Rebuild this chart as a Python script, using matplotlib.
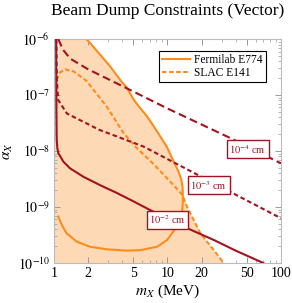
import numpy as np
import matplotlib
matplotlib.use("Agg")
import matplotlib.pyplot as plt

plt.rcParams["font.family"] = ["Liberation Serif", "DejaVu Serif"]
plt.rcParams["mathtext.fontset"] = "stix"

ORANGE = "#ff8c1a"
FILL = "#fdd9b6"
DARKRED = "#a3121f"

# Fermilab E774 contour: mass (MeV), log10(alpha)
e774_m = [1.92, 2.08, 2.55, 3.13, 3.83, 4.4, 5.03, 5.57, 6.6, 8.1, 9.9, 11.4, 12.4, 13.2, 13.6,
          13.7, 13.5, 13.0, 11.8, 9.9, 8.1, 5.76, 4.4, 2.92, 2.08, 1.59, 1.29, 1.17, 1.09]
e774_la = [-6.0, -6.07, -6.28, -6.49, -6.73, -6.875, -7.08, -7.2, -7.38, -7.65, -7.93, -8.2,
           -8.35, -8.5, -8.65, -8.875, -9.05, -9.17, -9.38, -9.59, -9.71, -9.77, -9.78, -9.755,
           -9.71, -9.62, -9.47, -9.32, -9.17]

# SLAC E141 contour
slac_m = [1.055, 1.12, 1.25, 1.5, 1.94, 2.38, 2.9, 3.4, 4.1, 5.38, 7.6, 10.6, 13.5,
          14.9, 19.5, 25.6, 31.3]
slac_la = [-6.73, -6.6, -6.54, -6.58, -6.75, -6.98, -7.2, -7.42, -7.68, -7.95, -8.24, -8.55,
           -8.78, -9.0, -9.47, -9.77, -10.0]

# decay length contours (10^-2, 10^-3, 10^-4 cm)
ct2_m = [1.045, 1.05, 1.056, 1.07, 1.092, 1.21, 1.386, 1.817, 2.55, 3.59, 5.03, 6.97, 10, 15,
         25.7, 40, 70]
ct2_la = [-6.0, -7.3, -7.8, -7.95, -8.04, -8.19, -8.31, -8.46, -8.61, -8.75, -8.9, -9.05, -9.21,
          -9.38, -9.59, -9.78, -10.0]
ct3_m = [1.05, 1.055, 1.07, 1.09, 1.3, 2.5, 6.15, 15, 40, 100]
ct3_la = [-6.0, -6.5, -6.9, -7.09, -7.33, -7.62, -7.92, -8.33, -8.78, -9.2]
ct4_m = [1.09, 1.2, 1.39, 2.0, 4.1, 10, 36, 100]
ct4_la = [-6.0, -6.19, -6.35, -6.54, -6.85, -7.24, -7.77, -8.22]

labels = [r"$10^{-2}$ cm", r"$10^{-3}$ cm", r"$10^{-4}$ cm"]
label_m = [10.0, 23.1, 51.0]
label_a = [5.9e-10, 2.45e-9, 1.07e-8]

fig = plt.figure(figsize=(2.92, 3.03), dpi=100)
ax = fig.add_axes([0.185, 0.132, 0.777, 0.739])
ax.set_xscale("log"); ax.set_yscale("log")

# excluded region: right edge = max of E774 upper branch and SLAC falling branch
la = np.linspace(-10, -6, 500)
kmax = int(np.argmax(e774_m))
up_la = np.array(e774_la[:kmax + 1])[::-1]; up_lm = np.log10(e774_m[:kmax + 1])[::-1]
kpk = int(np.argmax(slac_la))
sl_la = np.array(slac_la[kpk:])[::-1]; sl_lm = np.log10(slac_m[kpk:])[::-1]
r1 = np.where((la >= up_la[0]) & (la <= up_la[-1]), np.interp(la, up_la, up_lm), -1)
r2 = np.where(la <= sl_la[-1], np.interp(la, sl_la, sl_lm), -1)
right = 10 ** np.maximum(r1, r2)
left = np.where(la > slac_la[0], 1.085, 1.0)
ax.fill_betweenx(10 ** la, left, right, color=FILL, lw=0, zorder=1)

ax.plot(ct3_m, 10 ** np.array(ct3_la), color=DARKRED, lw=1.5, dashes=(2.2, 1.4), zorder=3)
ax.plot(ct4_m, 10 ** np.array(ct4_la), color=DARKRED, lw=1.5, dashes=(3.8, 2.0), zorder=3)
ax.plot(ct2_m, 10 ** np.array(ct2_la), color=DARKRED, lw=1.5, zorder=3)
ax.plot(e774_m, 10 ** np.array(e774_la), color=ORANGE, lw=1.5, label="Fermilab E774", zorder=2)
ax.plot(slac_m, 10 ** np.array(slac_la), color=ORANGE, lw=1.5, dashes=(2.2, 1.2),
        label="SLAC E141", zorder=2)

for t, m, a in zip(labels, label_m, label_a):
    ax.text(m, a, t, color=DARKRED, fontsize=7.5, ha="center", va="center", zorder=5,
            bbox=dict(boxstyle="square,pad=0.25", fc="white", ec=DARKRED, lw=1.0))

ax.set_xlim(1, 100); ax.set_ylim(1e-10, 1e-6)
ax.set_xticks([1, 2, 5, 10, 20, 50, 100])
ax.set_xticklabels(["1", "2", "5", "10", "20", "50", "100"])
ax.set_yticks([1e-10, 1e-9, 1e-8, 1e-7, 1e-6])
ax.set_yticklabels([r"$10^{-10}$", r"$10^{-9}$", r"$10^{-8}$", r"$10^{-7}$", r"$10^{-6}$"])
ax.tick_params(which="both", direction="in", top=True, right=True, color="#999999",
               labelsize=10, pad=3)
ax.tick_params(which="major", length=4, width=0.7)
ax.tick_params(which="minor", length=2, width=0.5)
for s in ax.spines.values():
    s.set_color("#bbbbbb"); s.set_linewidth(0.8)

ax.set_xlabel(r"$m_X$ (MeV)", fontsize=11, labelpad=2)
ax.set_ylabel(r"$\alpha_X$", fontsize=11, labelpad=2)
fig.text(0.575, 0.963, "Beam Dump Constraints (Vector)", fontsize=12.5, ha="center", va="center")

leg = ax.legend(loc="upper right", bbox_to_anchor=(0.934, 0.946), borderaxespad=0,
                fancybox=False, framealpha=1, edgecolor="black", fontsize=8.3,
                handlelength=2.5, borderpad=0.25, labelspacing=0.05, handletextpad=0.35)
leg.get_frame().set_linewidth(0.8)

fig.savefig("out.png", dpi=100)
